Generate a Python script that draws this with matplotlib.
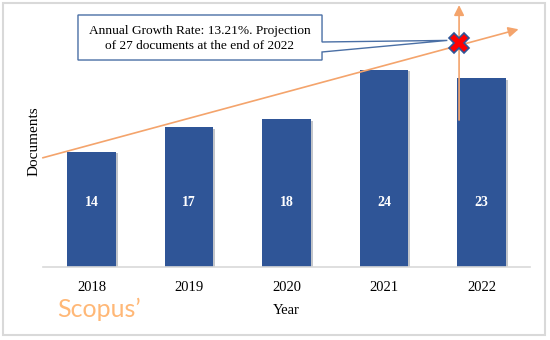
import matplotlib
matplotlib.use('Agg')
import matplotlib.pyplot as plt
import matplotlib.patheffects as pe
from matplotlib.patches import Rectangle, Polygon
import numpy as np

# data
years = ['2018', '2019', '2020', '2021', '2022']
documents = [14, 17, 18, 24, 23]
growth_rate = 13.21
projection = 27

bar_color = '#2F5597'
orange = '#F4A46C'
frame_gray = '#D9D9D9'
callout_blue = '#4A6FA5'

plt.rcParams['font.family'] = ['Liberation Serif', 'DejaVu Serif']

fig = plt.figure(figsize=(5.5, 3.4), dpi=100)
ax = fig.add_axes([0.0777, 0.2147, 0.8864, 0.7244])

x = np.arange(len(years))
bars = ax.bar(x, documents, width=0.5, color=bar_color, zorder=2,
              path_effects=[pe.SimplePatchShadow(offset=(1.5, -1), alpha=0.25), pe.Normal()])
for xi, v in zip(x, documents):
    ax.text(xi, 7.8, str(v), color='white', ha='center', va='center',
            fontsize=10, fontweight='bold', zorder=4)

ax.set_xlim(-0.5, len(years) - 0.5)
ax.set_ylim(0, 30)
ax.set_xticks(x)
ax.set_xticklabels(years, fontsize=10.5)
ax.tick_params(axis='x', length=0, pad=10)
ax.set_yticks([])
for s in ['top', 'right', 'left']:
    ax.spines[s].set_visible(False)
ax.spines['bottom'].set_color(frame_gray)
ax.spines['bottom'].set_linewidth(1.2)
ax.set_xlabel('Year', fontsize=10.5, labelpad=7)
ax.set_ylabel('Documents', fontsize=11, labelpad=0)
ax.yaxis.set_label_coords(-0.004, 0.51)

# projection: trend line through the projected point, vertical arrow at 2022
x_proj = 3.77
trend_start = 13.3
slope = (projection - trend_start) / (x_proj + 0.5)
x_end = 4.38
ax.annotate('', xy=(x_end, trend_start + slope * (x_end + 0.5)), xytext=(-0.5, trend_start),
            arrowprops=dict(arrowstyle='-|>', color=orange, lw=1.2, mutation_scale=15,
                            shrinkA=0, shrinkB=0),
            annotation_clip=False, zorder=3)
ax.annotate('', xy=(x_proj, 31.9), xytext=(x_proj, 17.9),
            arrowprops=dict(arrowstyle='-|>', color=orange, lw=1.2, mutation_scale=15,
                            shrinkA=0, shrinkB=0),
            annotation_clip=False, zorder=3)
ax.plot([x_proj], [projection + 0.3], marker='X', markersize=15, markerfacecolor='red',
        markeredgecolor=bar_color, markeredgewidth=1.2, clip_on=False, zorder=5)

# callout box with pointer to the projected point
tip = fig.transFigure.inverted().transform(ax.transData.transform((x_proj - 0.12, projection + 0.6)))
x0, x1, y0, y1 = 0.1418, 0.5855, 0.8235, 0.9559
callout = Polygon([(x0, y0), (x0, y1), (x1, y1), (x1, 0.8765), tuple(tip),
                   (x1, 0.8471), (x1, y0)], closed=True, transform=fig.transFigure,
                  facecolor='white', edgecolor=callout_blue, lw=1.0, zorder=6)
fig.patches.append(callout)
fig.text(0.3636, 0.888,
         'Annual Growth Rate: {:.2f}%. Projection\nof {} documents at the end of 2022'.format(growth_rate, projection),
         ha='center', va='center', fontsize=9.6, linespacing=1.35, zorder=7)

fig.text(0.103, 0.09, 'Scopus\u02bc', color='#FFB877', fontsize=18,
         family=['Lato', 'DejaVu Sans'], fontweight='normal', ha='left', va='center')

fig.patches.append(Rectangle((0.0055, 0.0147), 0.9855, 0.976, transform=fig.transFigure,
                             fill=False, edgecolor=frame_gray, lw=1.5))

fig.savefig('out.png', dpi=100)
